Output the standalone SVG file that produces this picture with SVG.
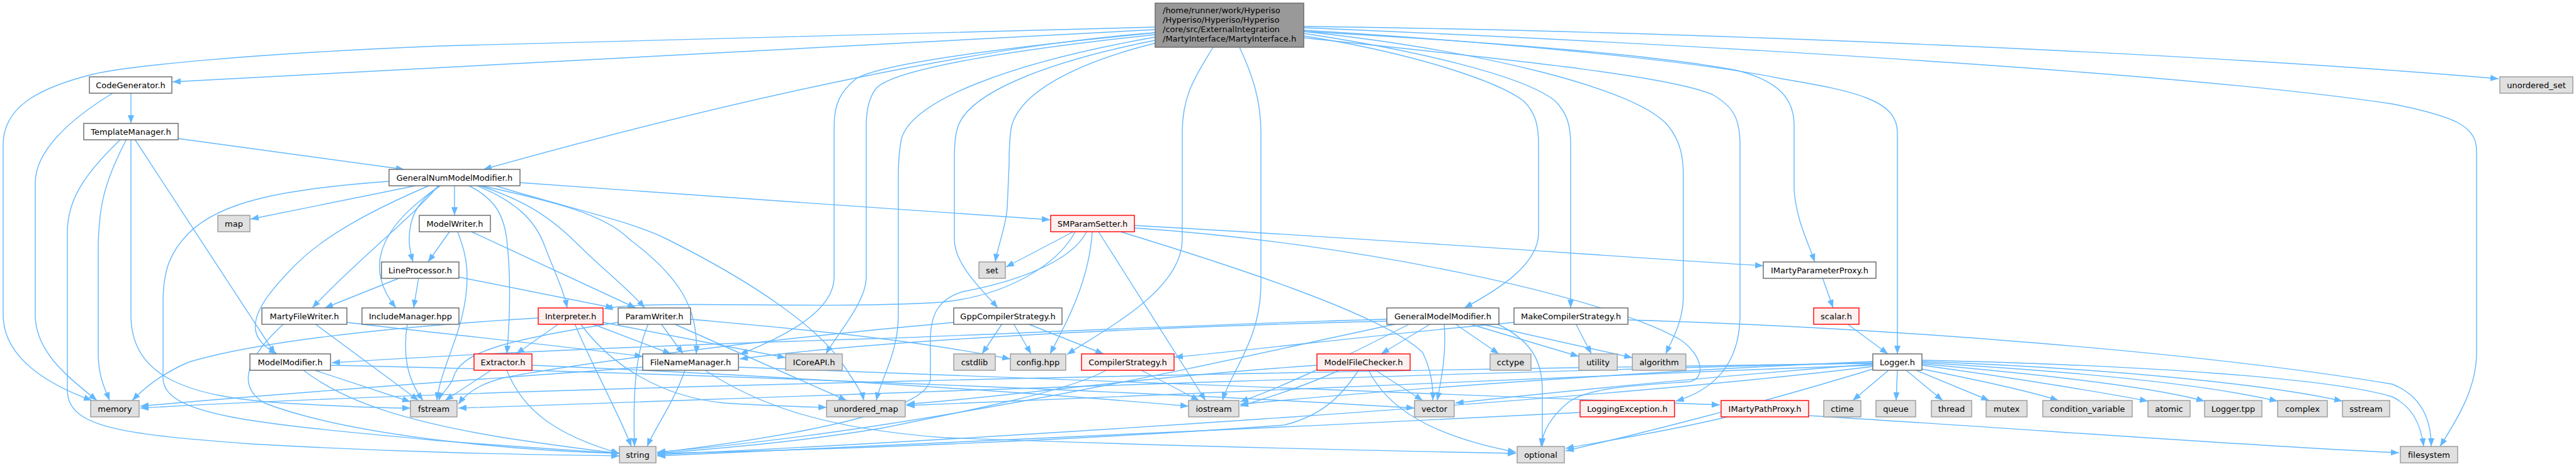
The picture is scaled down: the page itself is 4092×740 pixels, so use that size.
<svg xmlns="http://www.w3.org/2000/svg" width="4092" height="740" viewBox="0 0 4092 740">
<style>
.e{fill:none;stroke:#63b8ff;stroke-width:1.4;marker-end:url(#ah)}
rect{stroke-width:1.4}
.w rect{fill:#fff;stroke:#666}
.g rect{fill:#e0e0e0;stroke:#999}
.r rect{fill:#fff0f0;stroke:#f00}
.rt rect{fill:#999;stroke:#666}
text{font-family:"DejaVu Sans",sans-serif;font-size:13px;fill:#000;text-anchor:middle}
.rt text{text-anchor:start}
</style>
<defs>
<marker id="ah" viewBox="0 0 13 10" markerWidth="13" markerHeight="10" refX="13" refY="5" orient="auto" markerUnits="userSpaceOnUse"><path d="M0,0L13,5L0,10z" fill="#63b8ff"/></marker>
</defs>
<rect width="4092" height="740" fill="#fff"/>
<g id="edges">
<path class="e" d="M1835,47 L274,130"/>
<path class="e" d="M1835,43 C1400,55 900,65 700,73 C400,85 200,105 147,118 C60,140 5,170 5,230 L5,500 C5,570 80,612 146,636"/>
<path class="e" d="M1835,52 C1650,65 1300,120 768,269"/>
<path class="e" d="M2071,42 C2700,50 3500,85 3969,125"/>
<path class="e" d="M2071,44 C2800,75 3500,120 3800,165 C3900,185 3934,200 3934,240 L3934,560 C3934,620 3900,670 3876,709"/>
<path class="e" d="M2071,50 C2400,68 2650,90 2760,112 C2830,130 2850,160 2850,200 L2850,300 C2852,345 2872,385 2883,416"/>
<path class="e" d="M2071,48 C2400,68 2700,98 2830,125 C2950,145 3014,160 3014,210 L3014,562"/>
<path class="e" d="M2071,50 C2350,80 2600,140 2650,200 C2670,225 2674,250 2674,280 L2674,470 C2674,510 2656,540 2646,562"/>
<path class="e" d="M2071,53 C2250,80 2420,120 2470,160 C2490,180 2495,200 2495,230 L2495,489"/>
<path class="e" d="M2071,57 C2250,85 2380,130 2420,160 C2440,180 2444,200 2444,230 L2444,370 C2444,420 2380,460 2326,489"/>
<path class="e" d="M2071,60 C2400,95 2650,120 2720,150 C2755,170 2764,190 2764,230 L2764,500 C2764,580 2720,620 2662,637"/>
<path class="e" d="M1927,75 C1900,120 1878,150 1878,210 L1878,380 C1878,460 1760,520 1695,563"/>
<path class="e" d="M1969,75 C1990,120 2003,160 2003,210 L2003,450 C2003,540 1955,590 1942,636"/>
<path class="e" d="M1835,55 C1600,80 1420,110 1392,140 C1380,155 1376,175 1376,200 L1376,440 C1376,480 1330,530 1312,562"/>
<path class="e" d="M1835,52 C1600,75 1400,100 1360,125 C1335,145 1325,165 1325,200 L1325,440 C1325,500 1230,540 1175,563"/>
<path class="e" d="M1840,58 C1600,100 1450,160 1432,220 C1428,240 1427,260 1427,280 L1427,500 C1427,560 1400,600 1392,636"/>
<path class="e" d="M1845,62 C1650,100 1540,150 1522,200 C1517,215 1516,230 1516,260 L1516,380 C1516,420 1560,460 1585,489"/>
<path class="e" d="M1850,65 C1700,100 1620,150 1607,200 C1604,215 1603,230 1603,260 L1600,330 C1598,360 1585,390 1581,416"/>
<path class="e" d="M208,148 L208,196"/>
<path class="e" d="M179,148 C110,190 56,240 56,290 L56,500 C56,560 110,600 154,636"/>
<path class="e" d="M283,220 L642,269"/>
<path class="e" d="M192,221 C130,280 107,320 107,370 L107,620 C107,680 200,690 400,705 C700,722 900,722 984,724"/>
<path class="e" d="M201,221 C165,290 156,330 156,400 L156,560 C156,600 168,620 174,636"/>
<path class="e" d="M208,221 L208,500 C208,600 300,630 450,640 C550,646 600,648 652,648"/>
<path class="e" d="M214,221 L437,562"/>
<path class="e" d="M660,295 L398,348"/>
<path class="e" d="M618,288 C450,300 350,320 300,370 C270,400 259,430 259,480 L259,600 C259,660 400,672 700,700 C850,712 930,716 984,720"/>
<path class="e" d="M681,295 C600,330 520,370 470,420 C420,470 402,500 406,525 C410,545 428,555 440,562"/>
<path class="e" d="M696,295 C660,340 560,420 496,489"/>
<path class="e" d="M698,295 C650,330 618,360 606,400 C596,435 610,465 629,489"/>
<path class="e" d="M700,295 C660,320 650,350 650,380 C650,395 653,405 656,416"/>
<path class="e" d="M722,295 L722,342"/>
<path class="e" d="M745,295 C785,315 800,340 805,380 C812,440 810,510 805,562"/>
<path class="e" d="M758,295 C820,320 850,350 865,390 C880,430 895,460 901,489"/>
<path class="e" d="M762,295 C840,320 880,350 920,390 C960,430 1000,460 1024,489"/>
<path class="e" d="M765,295 C880,320 960,340 1000,380 C1080,440 1110,490 1106,562"/>
<path class="e" d="M787,295 C900,330 1000,350 1060,380 C1200,450 1300,520 1340,580 C1360,610 1370,625 1372,636"/>
<path class="e" d="M826,290 C1100,310 1400,330 1668,349"/>
<path class="e" d="M714,368 L680,416"/>
<path class="e" d="M727,368 C735,390 742,410 742,440 C742,520 700,580 694,636"/>
<path class="e" d="M749,368 L1010,489"/>
<path class="e" d="M636,441 L516,489"/>
<path class="e" d="M665,441 L657,489"/>
<path class="e" d="M729,440 L975,489"/>
<path class="e" d="M1708,368 C1680,420 1600,470 1494,480 C1300,492 1050,475 960,490"/>
<path class="e" d="M1726,368 C1700,420 1600,450 1530,463 C1490,475 1478,500 1478,540 L1478,600 C1478,660 1200,700 1044,719"/>
<path class="e" d="M1735,368 C1730,450 1690,520 1668,562"/>
<path class="e" d="M1745,368 L1915,636"/>
<path class="e" d="M1705,368 L1598,424"/>
<path class="e" d="M1780,368 C1950,420 2200,500 2260,560 C2272,585 2277,610 2276,636"/>
<path class="e" d="M1802,358 C2200,380 2600,410 2801,422"/>
<path class="e" d="M1802,362 C2150,385 2550,470 2670,540 C2705,565 2710,600 2685,606 C2600,612 2520,615 2490,640 C2460,665 2450,690 2448,709"/>
<path class="e" d="M2895,441 L2912,489"/>
<path class="e" d="M2934,514 L2999,562"/>
<path class="e" d="M3000,588 L2943,636"/>
<path class="e" d="M3014,588 L3012,636"/>
<path class="e" d="M3028,588 L3086,636"/>
<path class="e" d="M3044,588 L3160,636"/>
<path class="e" d="M3053,586 C3150,605 3220,620 3270,636"/>
<path class="e" d="M3053,580 C3200,600 3350,625 3412,637"/>
<path class="e" d="M3053,578 C3250,595 3420,615 3502,637"/>
<path class="e" d="M3053,576 C3300,590 3500,610 3618,637"/>
<path class="e" d="M3053,574 C3350,585 3600,610 3721,637"/>
<path class="e" d="M3053,572 C3400,580 3700,600 3800,630 C3830,645 3845,670 3850,709"/>
<path class="e" d="M2586,508 C3000,520 3500,560 3800,610 C3850,630 3862,670 3862,709"/>
<path class="e" d="M2975,574 C2600,590 2200,620 1970,642"/>
<path class="e" d="M2975,578 C2700,600 2450,625 2312,640"/>
<path class="e" d="M2975,582 C2500,640 1500,700 1044,722"/>
<path class="e" d="M2975,576 C2000,600 1000,640 728,648"/>
<path class="e" d="M2975,580 C2400,600 1800,630 1440,644"/>
<path class="e" d="M2975,586 C2800,640 2600,690 2487,716"/>
<path class="e" d="M2975,577 C2000,590 800,615 223,648"/>
<path class="e" d="M2873,660 C3200,680 3600,710 3811,719"/>
<path class="e" d="M2748,661 C2650,685 2550,700 2487,712"/>
<path class="e" d="M2510,655 C2000,680 1400,710 1044,724"/>
<path class="e" d="M2185,588 L2260,636"/>
<path class="e" d="M2174,588 C2200,640 2260,690 2408,718"/>
<path class="e" d="M2158,588 C2130,630 2100,660 2040,675 C1700,700 1300,715 1044,720"/>
<path class="e" d="M2127,588 C2080,610 2020,630 1970,645"/>
<path class="e" d="M2092,580 C1800,600 1600,630 1440,642"/>
<path class="e" d="M2203,507 C1900,515 1500,535 1380,538 C1000,550 700,565 527,576"/>
<path class="e" d="M2273,514 L2194,562"/>
<path class="e" d="M2311,514 L2381,562"/>
<path class="e" d="M2333,514 L2508,566"/>
<path class="e" d="M2350,514 L2593,568"/>
<path class="e" d="M2294,514 C2298,560 2290,600 2283,636"/>
<path class="e" d="M2378,514 C2430,540 2450,570 2450,620 L2450,709"/>
<path class="e" d="M2203,510 C1800,520 1400,540 1175,570"/>
<path class="e" d="M2220,514 C2000,560 1500,680 1044,718"/>
<path class="e" d="M2240,514 C2150,560 2050,610 1970,638"/>
<path class="e" d="M2405,512 C2200,530 2000,555 1866,567"/>
<path class="e" d="M2503,514 L2528,562"/>
<path class="e" d="M1592,514 L1560,562"/>
<path class="e" d="M1610,514 L1638,562"/>
<path class="e" d="M1632,514 L1753,562"/>
<path class="e" d="M1515,512 C1200,540 900,580 800,600 C760,610 740,625 728,642"/>
<path class="e" d="M1813,588 L1905,636"/>
<path class="e" d="M1757,588 C1700,620 1550,650 1400,680 C1250,705 1100,715 1044,720"/>
<path class="e" d="M1088,588 C1070,640 1040,680 1028,709"/>
<path class="e" d="M1021,583 C800,600 500,620 223,645"/>
<path class="e" d="M1120,588 C1200,640 1300,680 1500,695 C1900,710 2200,716 2408,720"/>
<path class="e" d="M1173,583 C1600,600 2300,625 2732,643"/>
<path class="e" d="M780,588 L707,636"/>
<path class="e" d="M805,588 C830,650 880,690 984,720"/>
<path class="e" d="M845,580 C1200,595 1600,620 1888,645"/>
<path class="e" d="M888,514 L820,562"/>
<path class="e" d="M913,514 C940,580 980,650 1003,709"/>
<path class="e" d="M922,514 C970,580 1050,630 1150,640 C1230,645 1280,646 1313,647"/>
<path class="e" d="M940,514 L1066,562"/>
<path class="e" d="M958,512 L1248,568"/>
<path class="e" d="M855,505 C600,520 400,545 300,575 C260,592 230,615 210,636"/>
<path class="e" d="M1030,514 C1010,560 1005,620 1008,709"/>
<path class="e" d="M1050,514 L1085,562"/>
<path class="e" d="M1070,514 L1345,636"/>
<path class="e" d="M982,512 C800,540 730,560 720,600 C715,615 700,625 697,636"/>
<path class="e" d="M1097,507 C1300,525 1450,540 1605,570"/>
<path class="e" d="M451,514 C400,560 370,610 420,640 C550,690 800,715 984,720"/>
<path class="e" d="M500,514 L665,636"/>
<path class="e" d="M551,512 C700,530 900,550 1021,566"/>
<path class="e" d="M647,514 C640,560 645,600 672,636"/>
<path class="e" d="M500,588 L652,638"/>
<path class="e" d="M482,588 C550,640 650,670 800,695 C900,710 950,716 984,720"/>
<path class="e" d="M525,580 C1000,590 1800,620 2247,648"/>
</g>
<g id="root" class="rt"><rect x="1835" y="5" width="236" height="70"/><text x="1847" y="21">/home/runner/work/Hyperiso</text><text x="1847" y="36">/Hyperiso/Hyperiso/Hyperiso</text><text x="1847" y="51">/core/src/ExternalIntegration</text><text x="1847" y="66">/MartyInterface/MartyInterface.h</text></g>
<g id="CodeGenerator" class="w"><rect x="142" y="122" width="131" height="26"/><text x="207.5" y="140">CodeGenerator.h</text></g>
<g id="unordered_set" class="g"><rect x="3971" y="122" width="116" height="26"/><text x="4029" y="140">unordered_set</text></g>
<g id="TemplateManager" class="w"><rect x="133" y="196" width="150" height="26"/><text x="208" y="214">TemplateManager.h</text></g>
<g id="GeneralNumModelModifier" class="w"><rect x="618" y="269" width="208" height="26"/><text x="722" y="287">GeneralNumModelModifier.h</text></g>
<g id="map" class="g"><rect x="346" y="342" width="51" height="26"/><text x="371.5" y="360">map</text></g>
<g id="ModelWriter" class="w"><rect x="666" y="342" width="113" height="26"/><text x="722.5" y="360">ModelWriter.h</text></g>
<g id="SMParamSetter" class="r"><rect x="1669" y="342" width="133" height="26"/><text x="1735.5" y="360">SMParamSetter.h</text></g>
<g id="LineProcessor" class="w"><rect x="606" y="416" width="123" height="26"/><text x="667.5" y="434">LineProcessor.h</text></g>
<g id="set" class="g"><rect x="1555" y="416" width="42" height="26"/><text x="1576" y="434">set</text></g>
<g id="IMartyParameterProxy" class="w"><rect x="2801" y="416" width="179" height="26"/><text x="2890.5" y="434">IMartyParameterProxy.h</text></g>
<g id="MartyFileWriter" class="w"><rect x="416" y="489" width="135" height="26"/><text x="483.5" y="507">MartyFileWriter.h</text></g>
<g id="IncludeManager" class="w"><rect x="575" y="489" width="154" height="26"/><text x="652" y="507">IncludeManager.hpp</text></g>
<g id="Interpreter" class="r"><rect x="855" y="489" width="103" height="26"/><text x="906.5" y="507">Interpreter.h</text></g>
<g id="ParamWriter" class="w"><rect x="982" y="489" width="115" height="26"/><text x="1039.5" y="507">ParamWriter.h</text></g>
<g id="GppCompilerStrategy" class="w"><rect x="1515" y="489" width="172" height="26"/><text x="1601" y="507">GppCompilerStrategy.h</text></g>
<g id="GeneralModelModifier" class="w"><rect x="2203" y="489" width="178" height="26"/><text x="2292" y="507">GeneralModelModifier.h</text></g>
<g id="MakeCompilerStrategy" class="w"><rect x="2405" y="489" width="181" height="26"/><text x="2495.5" y="507">MakeCompilerStrategy.h</text></g>
<g id="scalar" class="r"><rect x="2881" y="489" width="72" height="26"/><text x="2917" y="507">scalar.h</text></g>
<g id="ModelModifier" class="w"><rect x="397" y="562" width="128" height="26"/><text x="461" y="580">ModelModifier.h</text></g>
<g id="Extractor" class="r"><rect x="753" y="562" width="92" height="26"/><text x="799" y="580">Extractor.h</text></g>
<g id="FileNameManager" class="w"><rect x="1021" y="562" width="152" height="26"/><text x="1097" y="580">FileNameManager.h</text></g>
<g id="ICoreAPI" class="g"><rect x="1248" y="562" width="90" height="26"/><text x="1293" y="580">ICoreAPI.h</text></g>
<g id="cstdlib" class="g"><rect x="1515" y="562" width="66" height="26"/><text x="1548" y="580">cstdlib</text></g>
<g id="config" class="g"><rect x="1605" y="562" width="88" height="26"/><text x="1649" y="580">config.hpp</text></g>
<g id="CompilerStrategy" class="r"><rect x="1718" y="562" width="147" height="26"/><text x="1791.5" y="580">CompilerStrategy.h</text></g>
<g id="ModelFileChecker" class="r"><rect x="2092" y="562" width="148" height="26"/><text x="2166" y="580">ModelFileChecker.h</text></g>
<g id="cctype" class="g"><rect x="2367" y="562" width="65" height="26"/><text x="2399.5" y="580">cctype</text></g>
<g id="utility" class="g"><rect x="2508" y="562" width="61" height="26"/><text x="2538.5" y="580">utility</text></g>
<g id="algorithm" class="g"><rect x="2593" y="562" width="85" height="26"/><text x="2635.5" y="580">algorithm</text></g>
<g id="Logger" class="w"><rect x="2975" y="562" width="78" height="26"/><text x="3014" y="580">Logger.h</text></g>
<g id="memory" class="g"><rect x="144" y="636" width="77" height="26"/><text x="182.5" y="654">memory</text></g>
<g id="fstream" class="g"><rect x="652" y="636" width="74" height="26"/><text x="689" y="654">fstream</text></g>
<g id="unordered_map" class="g"><rect x="1313" y="636" width="125" height="26"/><text x="1375.5" y="654">unordered_map</text></g>
<g id="iostream" class="g"><rect x="1888" y="636" width="80" height="26"/><text x="1928" y="654">iostream</text></g>
<g id="vector" class="g"><rect x="2247" y="636" width="63" height="26"/><text x="2278.5" y="654">vector</text></g>
<g id="LoggingException" class="r"><rect x="2510" y="636" width="150" height="26"/><text x="2585" y="654">LoggingException.h</text></g>
<g id="IMartyPathProxy" class="r"><rect x="2734" y="636" width="139" height="26"/><text x="2803.5" y="654">IMartyPathProxy.h</text></g>
<g id="ctime" class="g"><rect x="2897" y="636" width="59" height="26"/><text x="2926.5" y="654">ctime</text></g>
<g id="queue" class="g"><rect x="2980" y="636" width="63" height="26"/><text x="3011.5" y="654">queue</text></g>
<g id="thread" class="g"><rect x="3068" y="636" width="64" height="26"/><text x="3100" y="654">thread</text></g>
<g id="mutex" class="g"><rect x="3155" y="636" width="65" height="26"/><text x="3187.5" y="654">mutex</text></g>
<g id="condition_variable" class="g"><rect x="3245" y="636" width="142" height="26"/><text x="3316" y="654">condition_variable</text></g>
<g id="atomic" class="g"><rect x="3412" y="636" width="67" height="26"/><text x="3445.5" y="654">atomic</text></g>
<g id="Logger_tpp" class="g"><rect x="3502" y="636" width="91" height="26"/><text x="3547.5" y="654">Logger.tpp</text></g>
<g id="complex" class="g"><rect x="3618" y="636" width="79" height="26"/><text x="3657.5" y="654">complex</text></g>
<g id="sstream" class="g"><rect x="3721" y="636" width="75" height="26"/><text x="3758.5" y="654">sstream</text></g>
<g id="string" class="g"><rect x="984" y="709" width="58" height="26"/><text x="1013" y="727">string</text></g>
<g id="optional" class="g"><rect x="2410" y="709" width="75" height="26"/><text x="2447.5" y="727">optional</text></g>
<g id="filesystem" class="g"><rect x="3813" y="709" width="91" height="26"/><text x="3858.5" y="727">filesystem</text></g>
</svg>
